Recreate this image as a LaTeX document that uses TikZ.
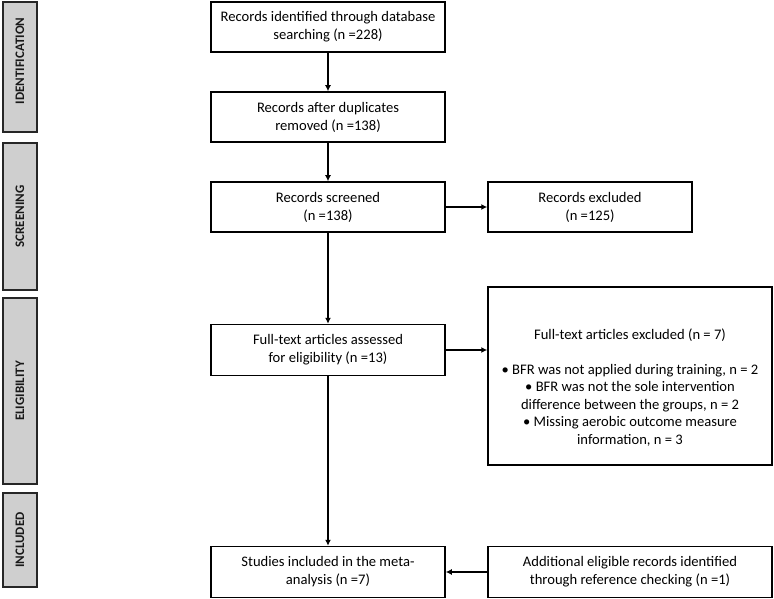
\documentclass[tikz,border=0pt]{standalone}
\usepackage{fontspec}
\setmainfont{Carlito}
\usetikzlibrary{arrows.meta,positioning}
\begin{document}
\begin{tikzpicture}[x=1pt,y=-1pt,
  phase/.style={draw=black!85,line width=1.6pt,fill=black!19,minimum width=33pt,inner sep=0pt},
  phasetxt/.style={font=\fontsize{13}{14}\selectfont\bfseries,rotate=90,text=black!90},
  box/.style={draw=black,line width=1.5pt,align=center,inner sep=0pt,font=\fontsize{14.6}{18}\selectfont},
  boxtxt/.style={align=center,inner sep=0pt,font=\fontsize{14.6}{17.5}\selectfont},
  arr/.style={line width=1.5pt,-{Latex[length=6pt,width=6pt]}}]
\useasboundingbox (0,0) rectangle (774,599);
% phase bars
\draw[phase] (3,2) rectangle (37,132);
\node[phasetxt] (pid) at (20,61) {IDENTIFICATION};
\draw[phase] (3,143) rectangle (37,290);
\node[phasetxt] (psc) at (20,216.5) {SCREENING};
\draw[phase] (3,298) rectangle (37,484);
\node[phasetxt] (pel) at (20,391) {ELIGIBILITY};
\draw[phase] (3,493) rectangle (37,587);
\node[phasetxt] (pin) at (20,540) {INCLUDED};
% main boxes
\node[box,minimum width=234pt,minimum height=50pt] (b1) at (328,27) {Records identified through database\\searching (n =228)};
\node[box,minimum width=234pt,minimum height=50pt] (b2) at (328,117) {Records after duplicates\\removed (n =138)};
\node[box,minimum width=234pt,minimum height=50pt] (b3) at (328,207) {Records screened\\(n =138)};
\node[box,minimum width=204pt,minimum height=50pt] (e1) at (590,207) {Records excluded\\(n =125)};
\node[box,minimum width=234pt,minimum height=51pt] (b4) at (328,350) {Full-text articles assessed\\for eligibility (n =13)};
\node[box,minimum width=284pt,minimum height=178pt] (e2) at (630,376) {};
\node[boxtxt] (e2t) at (630,387.5) {Full-text articles excluded (n = 7)\\[17.5pt]
  • BFR was not applied during training, n = 2\\
  • BFR was not the sole intervention\\
  difference between the groups, n = 2\\
  • Missing aerobic outcome measure\\
  information, n = 3};
\node[box,minimum width=234pt,minimum height=51pt] (b5) at (328,572) {Studies included in the meta-\\analysis (n =7)};
\node[box,minimum width=284pt,minimum height=51pt] (a1) at (630,572) {Additional eligible records identified\\through reference checking (n =1)};
% arrows
\draw[arr] (b1) -- (b2);
\draw[arr] (b2) -- (b3);
\draw[arr] (b3) -- (e1);
\draw[arr] (b3) -- (b4);
\draw[arr] (b4) -- (b4 -| e2.west);
\draw[arr] (b4) -- (b5);
\draw[arr] (a1) -- (b5);
\end{tikzpicture}
\end{document}
